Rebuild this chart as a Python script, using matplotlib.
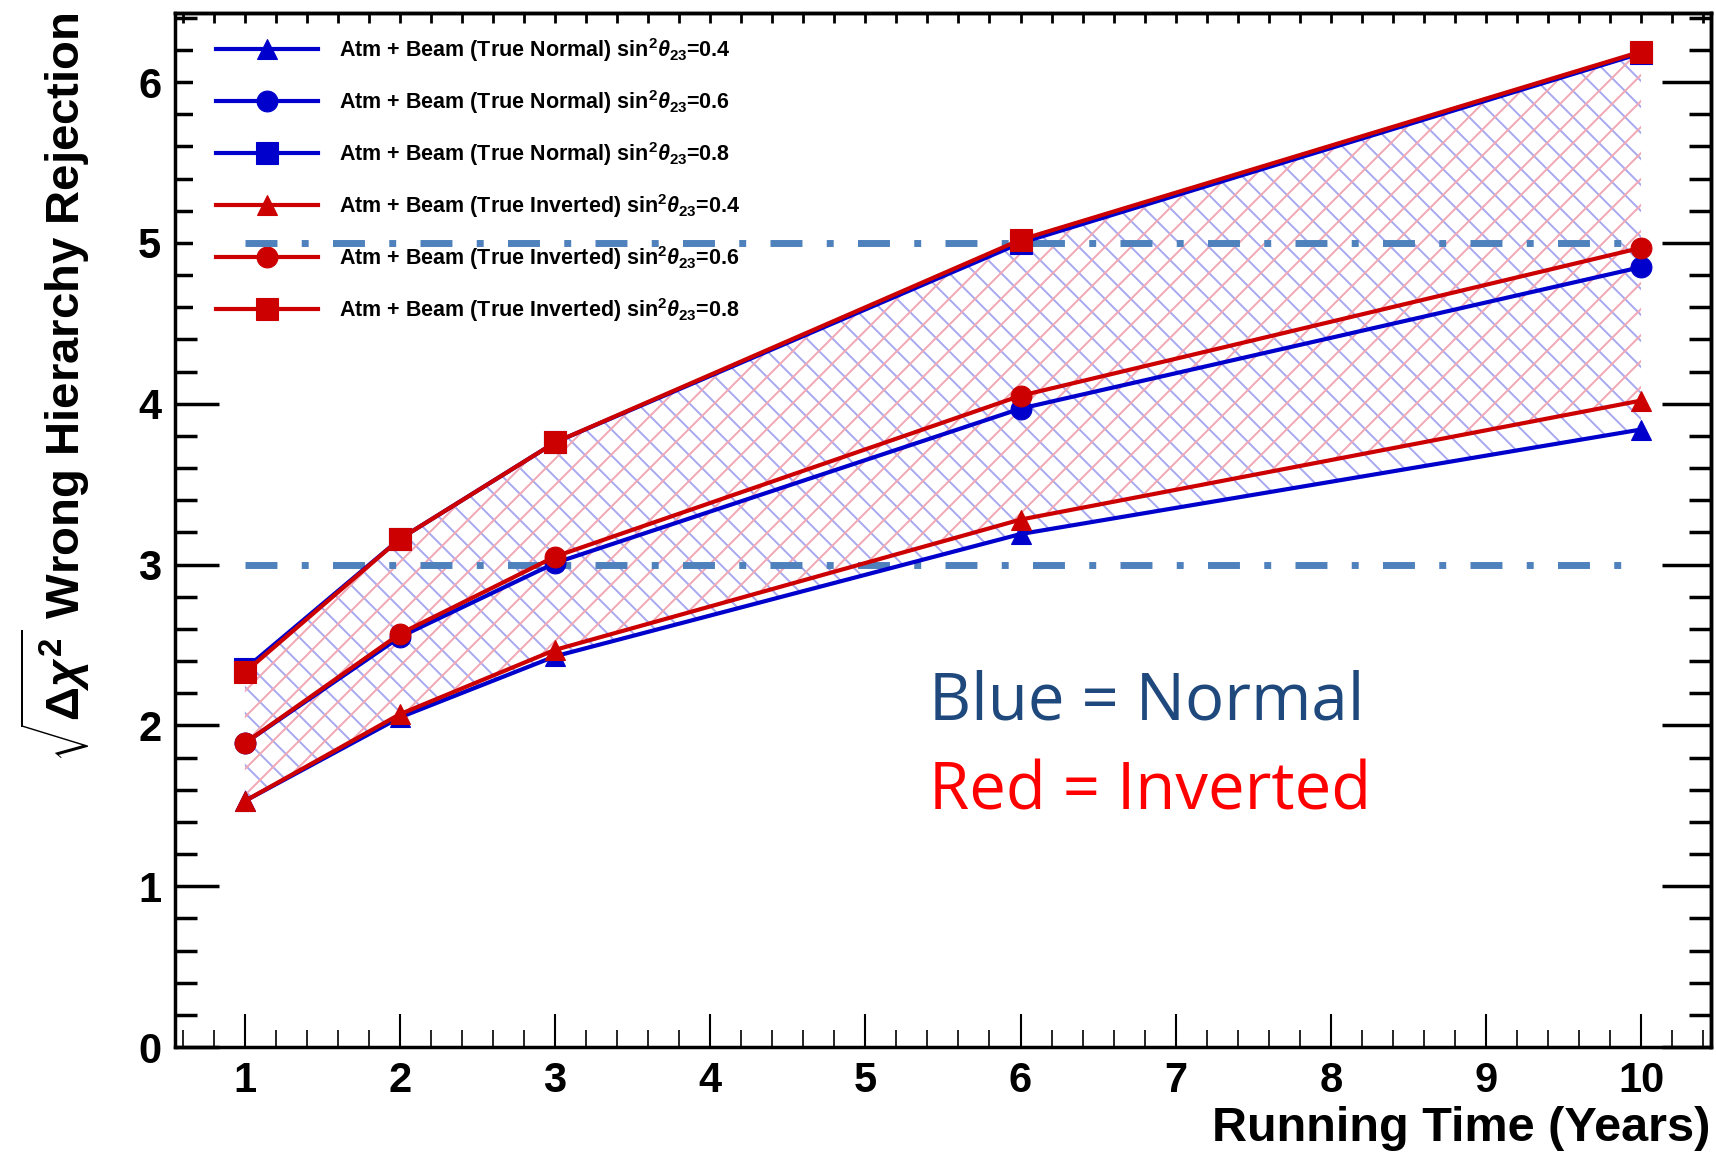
import matplotlib
matplotlib.use("Agg")
import matplotlib.pyplot as plt
from matplotlib.ticker import MultipleLocator
from matplotlib.patches import Rectangle

years = [1, 2, 3, 6, 10]

normal_04 = [1.53, 2.05, 2.43, 3.19, 3.84]
normal_06 = [1.89, 2.55, 3.01, 3.97, 4.85]
normal_08 = [2.35, 3.16, 3.76, 5.00, 6.18]
inverted_04 = [1.53, 2.07, 2.47, 3.28, 4.02]
inverted_06 = [1.89, 2.57, 3.05, 4.05, 4.97]
inverted_08 = [2.33, 3.16, 3.76, 5.02, 6.19]

sin2_values = ["0.4", "0.6", "0.8"]
guide_levels = [3, 5]
guide_x = [1, 10]
x_ticks = [1, 2, 3, 4, 5, 6, 7, 8, 9, 10]
y_ticks = [0, 1, 2, 3, 4, 5, 6]

blue = "#0000cc"
red = "#cc0000"

# low dpi so the default hatch spacing comes out near the ROOT one;
# sizes below are written as points at 100 dpi and scaled by K
DPI = 78
K = 100 / DPI

plt.rcParams["font.family"] = ["Liberation Sans", "DejaVu Sans"]
plt.rcParams["font.weight"] = "bold"
plt.rcParams["mathtext.fontset"] = "custom"
plt.rcParams["mathtext.rm"] = "Liberation Sans:bold"
plt.rcParams["mathtext.it"] = "Liberation Sans:italic:bold"
plt.rcParams["mathtext.bf"] = "Liberation Sans:bold"
plt.rcParams["hatch.linewidth"] = 1.4 * K

fig = plt.figure(figsize=(1716 / DPI, 1152 / DPI), dpi=DPI)
ax = fig.add_axes([0.102, 0.0911, 0.895, 0.8976])

# hatched bands between the 0.4 and 0.8 curves
ax.fill_between(years, normal_04, normal_08, facecolor="none", edgecolor="#a8a8f0",
                hatch="\\", linewidth=0, zorder=1)
ax.fill_between(years, inverted_04, inverted_08, facecolor="none", edgecolor="#f2a8b4",
                hatch="/", linewidth=0, zorder=1.1)

markers = ["^", "o", "s"]
msizes = [14, 15, 16]
normal = [normal_04, normal_06, normal_08]
inverted = [inverted_04, inverted_06, inverted_08]
handles = []
for vals, m, ms, s in zip(normal, markers, msizes, sin2_values):
    h, = ax.plot(years, vals, color=blue, lw=3 * K, marker=m, ms=ms * K, zorder=4,
                 label=r"Atm + Beam (True Normal) sin$^{2}\theta_{23}$=" + s)
    handles.append(h)
for vals, m, ms, s in zip(inverted, markers, msizes, sin2_values):
    h, = ax.plot(years, vals, color=red, lw=3 * K, marker=m, ms=ms * K, zorder=4.5,
                 label=r"Atm + Beam (True Inverted) sin$^{2}\theta_{23}$=" + s)
    handles.append(h)

# white legend box like ROOT's, covering the left ticks
ax.add_patch(Rectangle((0.0117, 0.708), 0.37, 0.275, transform=ax.transAxes,
                       facecolor="white", edgecolor="none", zorder=2.6))
leg = ax.legend(handles=handles, loc="upper left", bbox_to_anchor=(0.027, 0.978),
                frameon=False, fontsize=15.5 * K, handlelength=4.7, handletextpad=1.0,
                labelspacing=1.12, borderaxespad=0, borderpad=0)
leg.set_zorder(2.7)

for lvl in guide_levels:
    ax.plot(guide_x, [lvl, lvl], color="#4f81bd", lw=5 * K, zorder=3,
            dashes=[4.6, 3.5, 1.0, 3.5])

ax.text(5.41, 2.14, "Blue = Normal", color="#1f497d", fontsize=47 * K,
        fontweight="normal", family=["Open Sans", "DejaVu Sans"], va="center", ha="left")
ax.text(5.41, 1.58, "Red = Inverted", color="#ff0000", fontsize=47 * K,
        fontweight="normal", family=["Open Sans", "DejaVu Sans"], va="center", ha="left")

ax.set_xlim(0.55, 10.45)
ax.set_ylim(0, 6.43)
ax.set_xticks(x_ticks)
ax.set_yticks(y_ticks)
ax.xaxis.set_minor_locator(MultipleLocator(0.2))
ax.yaxis.set_minor_locator(MultipleLocator(0.2))
ax.tick_params(axis="x", which="major", direction="in", length=24 * K, width=1.5 * K,
               pad=10 * K, labelsize=30 * K)
ax.tick_params(axis="x", which="minor", direction="in", length=12 * K, width=1.2 * K)
ax.tick_params(axis="y", which="major", direction="in", length=32 * K, width=2.5 * K,
               pad=10 * K, labelsize=30 * K)
ax.tick_params(axis="y", which="minor", direction="in", length=16 * K, width=2.5 * K)
for lab in ax.get_xticklabels() + ax.get_yticklabels():
    lab.set_fontweight("bold")
for sp in ax.spines.values():
    sp.set_linewidth(2.5 * K)

top = ax.secondary_xaxis("top")
top.set_xticks(x_ticks)
top.xaxis.set_minor_locator(MultipleLocator(0.2))
top.tick_params(axis="x", which="both", direction="in", length=7 * K, width=2 * K,
                labeltop=False)
top.spines["top"].set_linewidth(2.5 * K)

right = ax.secondary_yaxis("right")
right.set_yticks(y_ticks)
right.yaxis.set_minor_locator(MultipleLocator(0.2))
right.tick_params(axis="y", which="major", direction="in", length=35 * K, width=2.5 * K,
                  labelright=False)
right.tick_params(axis="y", which="minor", direction="in", length=16 * K, width=2.5 * K)
right.spines["right"].set_linewidth(2.5 * K)

fig.text(0.997, 0.0095, "Running Time (Years)", ha="right", va="baseline",
         fontsize=35 * K, fontweight="bold")
fig.text(0.032, 0.664, r"$\sqrt{\Delta\chi^{2}}$ Wrong Hierarchy Rejection", rotation=90,
         ha="center", va="center", fontsize=34 * K, fontweight="bold")

fig.savefig("out.png", dpi=DPI)
